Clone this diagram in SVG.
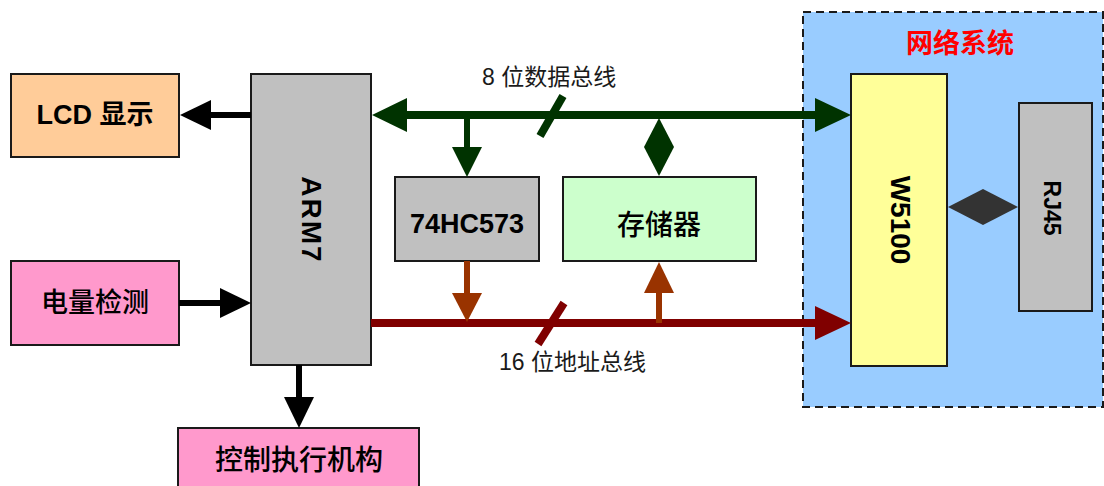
<svg xmlns="http://www.w3.org/2000/svg" width="1104" height="486" viewBox="0 0 1104 486">
<style>
.box{stroke:#1a1a1a;stroke-width:2}
.cjk{font-family:"Liberation Sans","Noto Sans CJK SC",sans-serif;fill:#000;font-weight:500}
.b{font-weight:bold}
.lbl{font-family:"Liberation Sans","Noto Sans CJK SC",sans-serif;fill:#1a1a1a;font-size:23px}
.blk{stroke:#000;stroke-width:6;fill:none}
.dat{stroke:#003300;stroke-width:8;fill:none}
.adr{stroke:#800000;stroke-width:8;fill:none}
.br{stroke:#993300;stroke-width:6;fill:none}
</style>
<rect width="1104" height="486" fill="#fff"/>
<g id="network">
<rect x="803" y="12" width="300" height="395" fill="#99ccff" stroke="#1a1a1a" stroke-width="2" stroke-dasharray="8,5"/>
<text x="960" y="53" text-anchor="middle" class="cjk b" font-size="27" style="fill:#ff0000">网络系统</text>
</g>
<g id="lcd">
<rect class="box" x="11" y="74" width="168" height="83" fill="#ffcc99"/>
<text x="95" y="124" text-anchor="middle" class="cjk b" font-size="27">LCD 显示</text>
</g>
<g id="meter">
<rect class="box" x="11" y="261" width="168" height="84" fill="#ff99cc"/>
<text x="95" y="312" text-anchor="middle" class="cjk" font-size="27">电量检测</text>
</g>
<g id="arm7">
<rect class="box" x="251" y="74" width="120" height="291" fill="#c0c0c0"/>
<text transform="translate(302,220) rotate(90)" text-anchor="middle" class="cjk b" font-size="28" letter-spacing="2">ARM7</text>
</g>
<g id="actuator">
<rect class="box" x="178" y="428" width="241" height="70" fill="#ff99cc"/>
<text x="299" y="470" text-anchor="middle" class="cjk" font-size="28">控制执行机构</text>
</g>
<g id="latch">
<rect class="box" x="395" y="177" width="144" height="84" fill="#c0c0c0"/>
<text x="467" y="233" text-anchor="middle" class="cjk b" font-size="27">74HC573</text>
</g>
<g id="memory">
<rect class="box" x="563" y="177" width="193" height="84" fill="#ccffcc"/>
<text x="659" y="235" text-anchor="middle" class="cjk" font-size="28">存储器</text>
</g>
<g id="w5100">
<rect class="box" x="851" y="74" width="96" height="292" fill="#ffff99"/>
<text transform="translate(891,220) rotate(90)" text-anchor="middle" class="cjk b" font-size="28">W5100</text>
</g>
<g id="rj45">
<rect class="box" x="1019" y="103" width="73" height="208" fill="#c0c0c0"/>
<text transform="translate(1044,208) rotate(90)" text-anchor="middle" class="cjk b" font-size="23">RJ45</text>
</g>
<g id="connectors">
<line class="blk" x1="251" y1="115" x2="205" y2="115"/>
<polygon points="180,115 211,100 211,130" fill="#000"/>
<line class="blk" x1="179" y1="303" x2="225" y2="303"/>
<polygon points="251,303 220,288 220,318" fill="#000"/>
<line class="blk" x1="299" y1="365" x2="299" y2="402"/>
<polygon points="299,428 284,397 314,397" fill="#000"/>
<line class="dat" x1="402" y1="115" x2="820" y2="115"/>
<polygon points="372,115 407,98 407,132" fill="#003300"/>
<polygon points="851,115 815,98 815,132" fill="#003300"/>
<line class="dat" x1="540" y1="136" x2="563" y2="96"/>
<line stroke="#003300" stroke-width="6" x1="467" y1="115" x2="467" y2="150"/>
<polygon points="467,177 452,147 482,147" fill="#003300"/>
<polygon points="659,118 644,147 674,147" fill="#003300"/>
<polygon points="659,176 644,147 674,147" fill="#003300"/>
<line class="adr" x1="371" y1="323" x2="820" y2="323"/>
<polygon points="851,323 815,306 815,340" fill="#800000"/>
<line class="adr" x1="538" y1="344" x2="564" y2="303"/>
<line class="br" x1="467" y1="261" x2="467" y2="296"/>
<polygon points="467,322 452,293 482,293" fill="#993300"/>
<line class="br" x1="659" y1="323" x2="659" y2="288"/>
<polygon points="659,262 644,293 674,293" fill="#993300"/>
<polygon points="948,207 983,189 983,225" fill="#333333"/>
<polygon points="1018,207 983,189 983,225" fill="#333333"/>
</g>
<g id="labels">
<text x="482" y="85" class="lbl">8 位数据总线</text>
<text x="499" y="370" class="lbl">16 位地址总线</text>
</g>
</svg>
